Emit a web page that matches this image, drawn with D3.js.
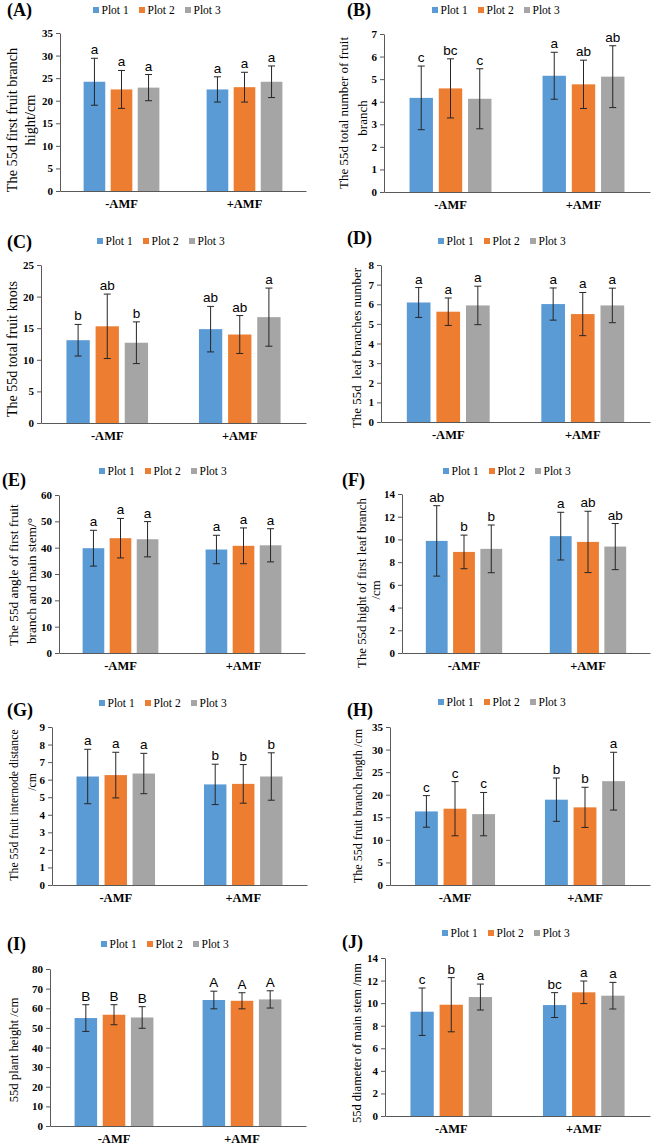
<!DOCTYPE html>
<html>
<head>
<meta charset="utf-8">
<script src="https://cdn.jsdelivr.net/npm/d3@7"></script>
<style>
  html, body { margin: 0; padding: 0; background: #fff; }
  svg { display: block; }
</style>
</head>
<body>
<svg id="chart" width="651" height="1145"></svg>
<script>
// ---------------- DATA ----------------
const groups = ["-AMF", "+AMF"];
const series = ["Plot 1", "Plot 2", "Plot 3"];
const colors = ["#5B9BD5", "#ED7D31", "#A5A5A5"];

// means [group][plot], errors (SD) [group][plot], significance letters
const A_mean = [[24.2, 22.5, 22.9], [22.5, 23.0, 24.2]];
const A_err  = [[5.2, 4.2, 2.9], [2.8, 3.3, 3.5]];
const A_sig  = [["a", "a", "a"], ["a", "a", "a"]];

const B_mean = [[4.17, 4.59, 4.13], [5.15, 4.77, 5.11]];
const B_err  = [[1.41, 1.31, 1.33], [1.04, 1.07, 1.37]];
const B_sig  = [["c", "bc", "c"], ["a", "ab", "ab"]];

const C_mean = [[13.1, 15.3, 12.7], [14.85, 14.0, 16.75]];
const C_err  = [[2.5, 5.1, 3.3], [3.6, 3.0, 4.6]];
const C_sig  = [["b", "ab", "b"], ["ab", "ab", "a"]];

const D_mean = [[6.09, 5.62, 5.94], [6.01, 5.50, 5.94]];
const D_err  = [[0.76, 0.70, 0.98], [0.82, 1.10, 0.88]];
const D_sig  = [["a", "a", "a"], ["a", "a", "a"]];

const E_mean = [[39.8, 43.6, 43.2], [39.3, 40.7, 40.9]];
const E_err  = [[6.8, 7.5, 6.7], [5.4, 6.8, 6.3]];
const E_sig  = [["a", "a", "a"], ["a", "a", "a"]];

const F_mean = [[9.87, 8.90, 9.17], [10.29, 9.78, 9.37]];
const F_err  = [[3.10, 1.48, 2.10], [2.10, 2.70, 2.03]];
const F_sig  = [["ab", "b", "b"], ["a", "ab", "ab"]];

const G_mean = [[6.18, 6.26, 6.35], [5.73, 5.76, 6.18]];
const G_err  = [[1.55, 1.30, 1.15], [1.15, 1.10, 1.35]];
const G_sig  = [["a", "a", "a"], ["b", "b", "b"]];

const H_mean = [[16.3, 16.9, 15.7], [18.9, 17.2, 23.0]];
const H_err  = [[3.5, 6.0, 4.8], [4.8, 4.45, 6.4]];
const H_sig  = [["c", "c", "c"], ["b", "b", "a"]];

const I_mean = [[55.0, 56.7, 55.3], [64.2, 63.8, 64.5]];
const I_err  = [[6.8, 5.1, 5.5], [4.5, 4.1, 4.4]];
const I_sig  = [["B", "B", "B"], ["A", "A", "A"]];

const J_mean = [[9.24, 9.86, 10.54], [9.83, 10.96, 10.66]];
const J_err  = [[2.10, 2.40, 1.15], [1.10, 1.00, 1.18]];
const J_sig  = [["c", "b", "a"], ["bc", "a", "a"]];

// axis maxima / tick steps
const A_axis = [35, 5], B_axis = [7, 1], C_axis = [25, 5], D_axis = [8, 1], E_axis = [60, 10];
const F_axis = [14, 2], G_axis = [9, 1], H_axis = [35, 5], I_axis = [80, 10], J_axis = [14, 2];

// y-axis titles (lines)
const A_title = ["The 55d first fruit branch", "hight/cm"];
const B_title = ["The 55d total number of fruit", "branch"];
const C_title = ["The 55d total fruit knots"];
const D_title = ["The 55d  leaf branches number"];
const E_title = ["The 55d angle of first fruit", "branch and main stem/°"];
const F_title = ["The 55d hight of first leaf branch", "/cm"];
const G_title = ["The 55d fruit internode distance", "/cm"];
const H_title = ["The 55d fruit branch length /cm"];
const I_title = ["55d plant height /cm"];
const J_title = ["55d diameter of main stem /mm"];

// ---------------- LAYOUT ----------------
const panels = [
  {id: "(A)", mean: A_mean, err: A_err, sig: A_sig, axis: A_axis, title: A_title, tfs: 14.3,
   x0: 60, x1: 306, yTop: 33, yBot: 191, leg: [93, 10], lab: [7, 16], tx: [17, 35], ty: [120, 120]},
  {id: "(B)", mean: B_mean, err: B_err, sig: B_sig, axis: B_axis, title: B_title, tfs: 13,
   x0: 384, x1: 650, yTop: 34, yBot: 192, leg: [432, 10], lab: [347, 16], tx: [348, 367], ty: [113, 118]},
  {id: "(C)", mean: C_mean, err: C_err, sig: C_sig, axis: C_axis, title: C_title, tfs: 14,
   x0: 41, x1: 306, yTop: 265, yBot: 423, leg: [97, 241], lab: [7, 248], tx: [17], ty: [349]},
  {id: "(D)", mean: D_mean, err: D_err, sig: D_sig, axis: D_axis, title: D_title, tfs: 12.9,
   x0: 381, x1: 650, yTop: 265, yBot: 422, leg: [438, 241], lab: [347, 244], tx: [361], ty: [348]},
  {id: "(E)", mean: E_mean, err: E_err, sig: E_sig, axis: E_axis, title: E_title, tfs: 13.3,
   x0: 59, x1: 305, yTop: 495, yBot: 653, leg: [99, 471], lab: [2, 486], tx: [18, 36], ty: [575, 581]},
  {id: "(F)", mean: F_mean, err: F_err, sig: F_sig, axis: F_axis, title: F_title, tfs: 12.8,
   x0: 402, x1: 650, yTop: 494, yBot: 653, leg: [443, 471], lab: [342, 486], tx: [366, 380], ty: [583, 590]},
  {id: "(G)", mean: G_mean, err: G_err, sig: G_sig, axis: G_axis, title: G_title, tfs: 11.8,
   x0: 52, x1: 307, yTop: 727, yBot: 885, leg: [99, 703], lab: [7, 716], tx: [18, 36], ty: [805, 782]},
  {id: "(H)", mean: H_mean, err: H_err, sig: H_sig, axis: H_axis, title: H_title, tfs: 12.1,
   x0: 390, x1: 650, yTop: 727, yBot: 885, leg: [438, 702], lab: [347, 716], tx: [362], ty: [806]},
  {id: "(I)", mean: I_mean, err: I_err, sig: I_sig, axis: I_axis, title: I_title, tfs: 12.7,
   x0: 50, x1: 306, yTop: 969, yBot: 1126, leg: [101, 944], lab: [7, 950], tx: [18], ty: [1050]},
  {id: "(J)", mean: J_mean, err: J_err, sig: J_sig, axis: J_axis, title: J_title, tfs: 12.5,
   x0: 385, x1: 650, yTop: 958, yBot: 1116, leg: [442, 933], lab: [342, 948], tx: [361], ty: [1043]}
];

const SERIF = "'Liberation Serif', 'Times New Roman', serif";
const SANS = "'Liberation Sans', Arial, sans-serif";
const svg = d3.select("#chart");

panels.forEach(p => {
  const g = svg.append("g");
  const x0 = d3.scaleBand().domain(groups).range([p.x0, p.x1]);
  const band = x0.bandwidth();
  const inner = d3.scaleBand().domain(series).range([0, 0.66 * band]).paddingInner(0.2).paddingOuter(0.1);
  const off = (band - 0.66 * band) / 2;
  const y = d3.scaleLinear().domain([0, p.axis[0]]).range([p.yBot, p.yTop]);

  // y axis
  const ticks = d3.range(0, p.axis[0] + p.axis[1] / 2, p.axis[1]);
  const ax = g.append("g").attr("transform", `translate(${p.x0},0)`)
    .call(d3.axisLeft(y).tickValues(ticks).tickFormat(d3.format("d")).tickSizeInner(4).tickSizeOuter(0).tickPadding(3));
  ax.attr("font-family", SERIF);
  ax.select(".domain").attr("stroke", "#595959");
  ax.selectAll(".tick line").attr("stroke", "#595959");
  ax.selectAll(".tick text").attr("font-family", SERIF).attr("font-weight", "bold")
    .attr("font-size", 11).attr("fill", "#000");

  // x axis
  const xa = g.append("g").attr("transform", `translate(0,${p.yBot})`)
    .call(d3.axisBottom(x0).tickSize(0).tickPadding(8));
  xa.attr("font-family", SERIF);
  xa.select(".domain").attr("stroke", "#595959");
  xa.selectAll(".tick text").attr("font-family", SERIF).attr("font-weight", "bold")
    .attr("font-size", 12.5).attr("fill", "#000");

  // bars
  const rows = [];
  groups.forEach((gr, gi) => series.forEach((s, si) => rows.push({
    gr, s, si, v: p.mean[gi][si], e: p.err[gi][si], l: p.sig[gi][si]
  })));
  const bx = d => x0(d.gr) + off + inner(d.s);
  g.selectAll("rect.bar").data(rows).join("rect").attr("class", "bar")
    .attr("x", bx).attr("width", inner.bandwidth())
    .attr("y", d => y(d.v)).attr("height", d => y(0) - y(d.v))
    .attr("fill", d => colors[d.si]);

  // error bars
  const cap = 3.5;
  const cx = d => bx(d) + inner.bandwidth() / 2;
  const eg = g.selectAll("g.err").data(rows).join("g").attr("class", "err")
    .attr("stroke", "#262626").attr("stroke-width", 1);
  eg.append("line").attr("x1", cx).attr("x2", cx)
    .attr("y1", d => y(d.v - d.e)).attr("y2", d => y(d.v + d.e));
  eg.append("line").attr("x1", d => cx(d) - cap).attr("x2", d => cx(d) + cap)
    .attr("y1", d => y(d.v + d.e)).attr("y2", d => y(d.v + d.e));
  eg.append("line").attr("x1", d => cx(d) - cap).attr("x2", d => cx(d) + cap)
    .attr("y1", d => y(d.v - d.e)).attr("y2", d => y(d.v - d.e));

  // significance letters
  g.selectAll("text.sig").data(rows).join("text").attr("class", "sig")
    .attr("x", cx).attr("y", d => y(d.v + d.e) - 4)
    .attr("text-anchor", "middle").attr("font-family", SANS).attr("font-size", 13.5)
    .attr("fill", "#000").text(d => d.l);

  // legend
  const lg = g.append("g").attr("transform", `translate(${p.leg[0]},${p.leg[1]})`);
  series.forEach((s, i) => {
    const it = lg.append("g").attr("transform", `translate(${i * 46},0)`);
    it.append("rect").attr("x", 0).attr("y", -3).attr("width", 6).attr("height", 6).attr("fill", colors[i]);
    it.append("text").attr("x", 8.5).attr("y", 4).attr("font-family", SERIF).attr("font-size", 11.5)
      .attr("fill", "#000").text(s);
  });

  // panel label
  g.append("text").attr("x", p.lab[0]).attr("y", p.lab[1]).attr("font-family", SERIF)
    .attr("font-weight", "bold").attr("font-size", 18).attr("fill", "#000").text(p.id);

  // y title
  p.title.forEach((t, i) => {
    g.append("text").attr("transform", `translate(${p.tx[i]},${p.ty[i]}) rotate(-90)`)
      .attr("text-anchor", "middle").attr("font-family", SERIF).attr("font-size", p.tfs)
      .attr("fill", "#000").style("white-space", "pre").text(t);
  });
});
</script>
</body>
</html>
